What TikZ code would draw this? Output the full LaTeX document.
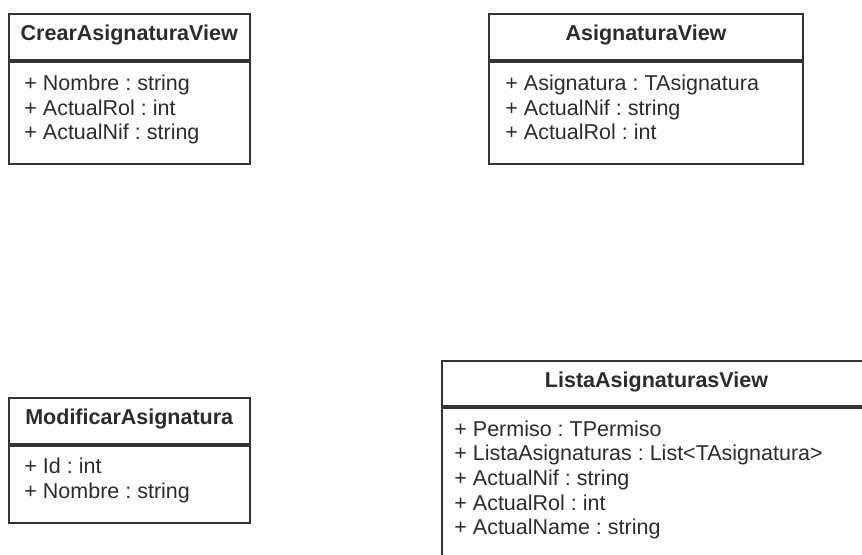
\documentclass[tikz,border=0pt]{standalone}
\usepackage{fontspec}
\setmainfont{Liberation Sans}
\usepackage{xcolor}
\definecolor{umlline}{HTML}{333333}
\definecolor{umltext}{HTML}{2B2B2B}
\frenchspacing

\begin{document}
\begin{tikzpicture}[x=0.5pt, y=-0.5pt,
    head/.style={draw=umlline, line width=1pt, text=umltext, inner sep=0pt,
      font=\fontsize{10.75}{13}\selectfont\bfseries, text height=7.5pt, text depth=4pt},
    body/.style={draw=umlline, line width=1pt, inner sep=0pt, anchor=north},
    attr/.style={anchor=base west, inner sep=0pt, text=umltext,
      font=\fontsize{10.75}{13}\selectfont}]
    \useasboundingbox (0,0) rectangle (862,554);
    \clip (0,0) rectangle (862,554);
    % CrearAsignaturaView
    \node[head, minimum width=120.75pt, minimum height=23pt] (crearH) at (129.25,37) {CrearAsignaturaView};
    \node[body, minimum width=120.75pt, minimum height=51pt] (crearB) at (crearH.south) {};
    \node[attr] (c1) at (24,90) {+ Nombre : string};
    \node[attr] (c2) at (24,115) {+ ActualRol : int};
    \node[attr] (c3) at (24,139) {+ ActualNif : string};
    % AsignaturaView
    \node[head, minimum width=157pt, minimum height=23pt] (asigH) at (646,37) {AsignaturaView};
    \node[body, minimum width=157pt, minimum height=51pt] (asigB) at (asigH.south) {};
    \node[attr] (a1) at (505,90) {+ Asignatura : TAsignatura};
    \node[attr] (a2) at (505,115) {+ ActualNif : string};
    \node[attr] (a3) at (505,139) {+ ActualRol : int};
    % ModificarAsignatura
    \node[head, minimum width=120.75pt, minimum height=23pt] (modH) at (129.25,421) {ModificarAsignatura};
    \node[body, minimum width=120.75pt, minimum height=38.5pt] (modB) at (modH.south) {};
    \node[attr] (m1) at (24,473) {+ Id : int};
    \node[attr] (m2) at (24,498) {+ Nombre : string};
    % ListaAsignaturasView
    \node[head, minimum width=214.5pt, minimum height=22.5pt] (listaH) at (656.5,383.5) {ListaAsignaturasView};
    \node[body, minimum width=214.5pt, minimum height=77pt] (listaB) at (listaH.south) {};
    \node[attr] (l1) at (454,436) {+ Permiso : TPermiso};
    \node[attr] (l2) at (454,460) {+ ListaAsignaturas : List<TAsignatura>};
    \node[attr] (l3) at (454,485) {+ ActualNif : string};
    \node[attr] (l4) at (454,510) {+ ActualRol : int};
    \node[attr] (l5) at (454,534) {+ ActualName : string};
  \end{tikzpicture}
\end{document}
